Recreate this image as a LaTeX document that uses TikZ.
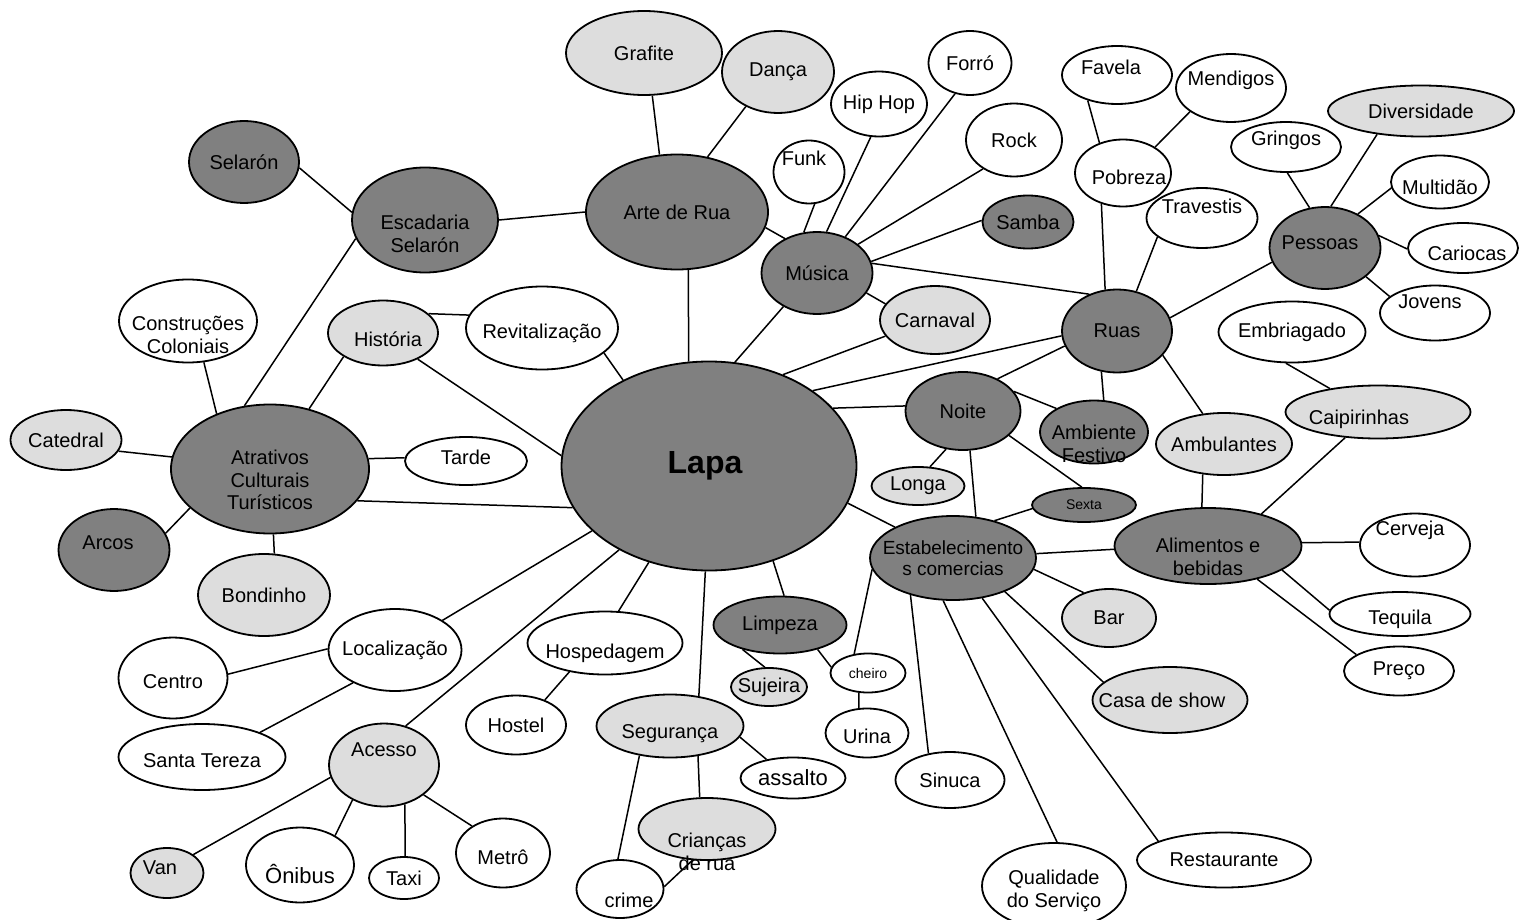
\documentclass[tikz,border=0pt]{standalone}
\usepackage{fontspec}
\setmainfont{Liberation Sans}
\usepackage{tikz}
\usetikzlibrary{shapes.geometric}
\definecolor{dkgray}{HTML}{808080}
\definecolor{ltgray}{HTML}{DDDDDD}

\begin{document}
\begin{tikzpicture}[x=1pt,y=-1pt,line width=1.5pt,
  every node/.style={font=\fontsize{20}{22.5}\selectfont,align=center},
  every label/.style={inner sep=0pt},
  bub/.style 2 args={ellipse,draw,line width=1.8pt,inner sep=0pt,minimum width=#1pt,minimum height=#2pt},
  dk/.style={fill=dkgray}, lt/.style={fill=ltgray}, wt/.style={fill=white},
  small/.style={font=\fontsize{14}{16}\selectfont},
  big/.style={font=\fontsize{22}{26}\selectfont}]
\useasboundingbox (0,0) rectangle (1525,920);

\node[dk,bub={295}{209},label={[font=\bfseries\fontsize{32}{36}\selectfont,xshift=-4pt]center:Lapa}] (lapa) at (709,466) {};

\node[dk,bub={182}{115},label=center:Arte de Rua] (arte) at (677,212) {};
\node[lt,bub={156}{84},label=center:Grafite] (grafite) at (644,53) {};
\node[lt,bub={112}{82},label=center:Dança] (danca) at (778,72) {};
\node[dk,bub={146}{105},label={[yshift=-14pt]center:Escadaria\\Selarón}] (escadaria) at (425,220) {};
\node[dk,bub={110}{82},label=center:Selarón] (selaron) at (244,162) {};

\node[dk,bub={111}{82},label=center:Música] (musica) at (817,273) {};
\node[wt,bub={71}{63},label={[xshift=-5pt,yshift=14pt]center:Funk}] (funk) at (809,172) {};
\node[wt,bub={96}{65},label=center:Hip Hop] (hiphop) at (879,104) {};
\node[wt,bub={83}{64},label=center:Forró] (forro) at (970,63) {};
\node[wt,bub={96}{73},label=center:Rock] (rock) at (1014,140) {};
\node[dk,bub={91}{53},label=center:Samba] (samba) at (1028,222) {};
\node[lt,bub={110}{68},label=center:Carnaval] (carnaval) at (935,320) {};

\node[dk,bub={198}{129},label={[yshift=-11pt]center:Atrativos\\Culturais\\Turísticos}] (atrativos) at (270,469) {};
\node[wt,bub={138}{83},label={[yshift=-14pt]center:Construções\\Coloniais}] (construcoes) at (188,321) {};
\node[lt,bub={110}{65},label={[xshift=5pt,yshift=-6pt]center:História}] (historia) at (383,333) {};
\node[wt,bub={152}{83},label={[yshift=-5pt]center:Revitalização}] (revitalizacao) at (542,328) {};
\node[lt,bub={111}{60},label=center:Catedral] (catedral) at (66,440) {};
\node[wt,bub={122}{48},label={[yshift=4pt]center:Tarde}] (tarde) at (466,461) {};
\node[dk,bub={111}{82},label={[xshift=-6pt,yshift=7pt]center:Arcos}] (arcos) at (114,550) {};
\node[lt,bub={132}{82},label=center:Bondinho] (bondinho) at (264,595) {};

\node[wt,bub={133}{82},label=center:Localização] (localizacao) at (395,650) {};
\node[wt,bub={109}{81},label={[yshift=-4pt]center:Centro}] (centro) at (173,678) {};
\node[wt,bub={167}{66},label={[yshift=-4pt]center:Santa Tereza}] (santa) at (202,757) {};
\node[lt,bub={110}{83},label={[yshift=15pt]center:Acesso}] (acesso) at (384,765) {};
\node[lt,bub={73}{50},label={[xshift=-7pt,yshift=5pt]center:Van}] (van) at (167,873) {};
\node[wt,bub={108}{75},label={[big,yshift=-9pt]center:Ônibus}] (onibus) at (300,865) {};
\node[wt,bub={70}{42},label=center:Taxi] (taxi) at (404,878) {};
\node[wt,bub={94}{69},label={[yshift=-4pt]center:Metrô}] (metro) at (503,853) {};
\node[wt,bub={155}{63},label={[yshift=-10pt]center:Hospedagem}] (hospedagem) at (605,643) {};
\node[wt,bub={100}{59},label=center:Hostel] (hostel) at (516,725) {};
\node[lt,bub={147}{63},label={[yshift=-8pt]center:Segurança}] (seguranca) at (670,726) {};
\node[wt,bub={87}{58},label={[xshift=9pt,yshift=-11pt]center:crime}] (crime) at (620,889) {};
\node[lt,bub={137}{62},label={[yshift=-23pt]center:Crianças\\de rua}] (criancas) at (707,829) {};
\node[wt,bub={105}{41},label={[big]center:assalto}] (assalto) at (793,778) {};

\node[dk,bub={133}{57},label=center:Limpeza] (limpeza) at (780,625) {};
\node[lt,bub={76}{38},label=center:Sujeira] (sujeira) at (769,687) {};
\node[wt,bub={75}{39},label={[small]center:cheiro}] (cheiro) at (868,673) {};
\node[wt,bub={83}{49},label={[yshift=-3pt]center:Urina}] (urina) at (867,733) {};
\node[dk,bub={115}{78},label=center:Noite] (noite) at (963,411) {};
\node[lt,bub={93}{38},label=center:Longa] (longa) at (918,486) {};
\node[dk,bub={104}{34},label={[small]center:Sexta}] (sexta) at (1084,505) {};
\node[dk,bub={108}{63},label={[yshift=-12pt]center:Ambiente\\Festivo}] (ambiente) at (1094,432) {};
\node[dk,bub={166}{84},label={[font=\fontsize{19}{21}\selectfont]center:Estabelecimento\\s comercias}] (estab) at (953,558) {};

\node[dk,bub={187}{76},label={[yshift=-11pt]center:Alimentos e\\bebidas}] (alimentos) at (1208,546) {};
\node[wt,bub={110}{63},label={[xshift=-5pt,yshift=15pt]center:Cerveja}] (cerveja) at (1415,545) {};
\node[wt,bub={141}{44},label={[yshift=-5pt]center:Tequila}] (tequila) at (1400,614) {};
\node[wt,bub={110}{49},label=center:Preço] (preco) at (1399,671) {};
\node[lt,bub={94}{58},label=center:Bar] (bar) at (1109,618) {};
\node[lt,bub={155}{66},label={[xshift=-8pt]center:Casa de show}] (casa) at (1170,700) {};
\node[wt,bub={109}{56},label=center:Sinuca] (sinuca) at (950,780) {};
\node[wt,bub={144}{86},label={[yshift=-5pt]center:Qualidade\\do Serviço}] (qualidade) at (1054,886) {};
\node[wt,bub={174}{55},label=center:Restaurante] (restaurante) at (1224,860) {};

\node[dk,bub={110}{83},label=center:Ruas] (ruas) at (1117,331) {};
\node[wt,bub={111}{60},label={[yshift=12pt]center:Travestis}] (travestis) at (1202,218) {};
\node[wt,bub={96}{67},label={[xshift=6pt,yshift=-4pt]center:Pobreza}] (pobreza) at (1123,173) {};
\node[wt,bub={110}{58},label={[xshift=-6pt,yshift=8pt]center:Favela}] (favela) at (1117,75) {};
\node[wt,bub={110}{68},label={[yshift=8pt]center:Mendigos}] (mendigos) at (1231,88) {};
\node[dk,bub={111}{82},label={[xshift=-5pt,yshift=5pt]center:Pessoas}] (pessoas) at (1325,248) {};
\node[lt,bub={186}{51},label=center:Diversidade] (diversidade) at (1421,111) {};
\node[wt,bub={110}{50},label={[yshift=7pt]center:Gringos}] (gringos) at (1286,147) {};
\node[wt,bub={98}{53},label={[yshift=-5pt]center:Multidão}] (multidao) at (1440,182) {};
\node[wt,bub={110}{50},label={[xshift=4pt,yshift=-5pt]center:Cariocas}] (cariocas) at (1463,248) {};
\node[wt,bub={110}{55},label={[xshift=-5pt,yshift=11pt]center:Jovens}] (jovens) at (1435,313) {};
\node[wt,bub={147}{61},label=center:Embriagado] (embriagado) at (1292,332) {};
\node[lt,bub={185}{53},label={[xshift=-19pt,yshift=-7pt]center:Caipirinhas}] (caipirinhas) at (1378,412) {};
\node[lt,bub={136}{62},label=center:Ambulantes] (ambulantes) at (1224,444) {};

% connectors
\draw (grafite.-79) -- (arte.107);
\draw (danca.-133) -- (arte.61);
\draw (selaron.-6) -- (escadaria.174);
\draw (escadaria.0) -- (arte.180);
\draw (escadaria.195) -- (atrativos.112);
\draw (arte.-79) -- (lapa.101);
\draw (arte.-10) -- (musica.133);
\draw (construcoes.-69) -- (atrativos.134);
\draw (historia.23) -- (revitalizacao.170);
\draw (historia.211) -- (atrativos.57);
\draw (historia.-37) -- (lapa.176);
\draw (revitalizacao.-22) -- (lapa.135);
\draw (lapa.76) -- (musica.225);
\draw (catedral.-12) -- (atrativos.173);
\draw (atrativos.6) -- (tarde.177);
\draw (atrativos.-154) -- (arcos.18);
\draw (atrativos.-87) -- (bondinho.76);
\draw (atrativos.-20) -- (lapa.-163);

\draw (funk.-80) -- (musica.108);
\draw (hiphop.-104) -- (musica.77);
\draw (forro.-116) -- (musica.52);
\draw (rock.-137) -- (musica.35);
\draw (samba.178) -- (musica.12);
\draw (musica.10) -- (ruas.127);
\draw (musica.-22) -- (carnaval.162);
\draw (carnaval.-162) -- (lapa.51);

\draw (ruas.-175) -- (lapa.36);
\draw (ruas.-164) -- (noite.43);
\draw (pobreza.-125) -- (ruas.106);
\draw (travestis.-157) -- (ruas.64);
\draw (ruas.14) -- (pessoas.195);
\draw (ruas.-111) -- (ambiente.73);
\draw (ruas.-28) -- (ambulantes.125);
\draw (favela.-139) -- (pobreza.128);
\draw (mendigos.-150) -- (pobreza.39);
\draw (gringos.-87) -- (pessoas.111);
\draw (diversidade.-152) -- (pessoas.82);
\draw (multidao.-173) -- (pessoas.46);
\draw (cariocas.181) -- (pessoas.13);
\draw (jovens.160) -- (pessoas.-35);
\draw (embriagado.-101) -- (caipirinhas.154);
\draw (caipirinhas.-142) -- (alimentos.31);

\draw (lapa.25) -- (noite.175);
\draw (noite.21) -- (ambiente.148);
\draw (noite.-114) -- (longa.58);
\draw (noite.-80) -- (estab.61);
\draw (noite.-28) -- (sexta.97);
\draw (lapa.-15) -- (estab.152);
\draw (sexta.-176) -- (estab.42);
\draw (estab.3) -- (alimentos.182);
\draw (alimentos.99) -- (ambulantes.-125);
\draw (alimentos.2) -- (cerveja.177);
\draw (alimentos.-18) -- (tequila.177);
\draw (alimentos.-34) -- (preco.159);
\draw (estab.-8) -- (bar.135);
\draw (estab.-33) -- (casa.165);
\draw (estab.-54) -- (restaurante.164);
\draw (estab.-103) -- (qualidade.86);
\draw (estab.-139) -- (sinuca.129);
\draw (estab.-172) -- (cheiro.126);

\draw (lapa.-56) -- (limpeza.82);
\draw (limpeza.-33) -- (cheiro.171);
\draw (cheiro.-115) -- (urina.108);
\draw (limpeza.-147) -- (sujeira.102);
\draw (lapa.-92) -- (seguranca.46);
\draw (lapa.-122) -- (hospedagem.67);
\draw (seguranca.-9) -- (assalto.145);
\draw (seguranca.-136) -- (crime.94);
\draw (seguranca.-47) -- (criancas.103);
\draw (criancas.-115) -- (crime.3);
\draw (hospedagem.-141) -- (hostel.41);

\draw (lapa.-151) -- (localizacao.32);
\draw (lapa.-137) -- (acesso.61);
\draw (localizacao.179) -- (centro.4);
\draw (localizacao.-142) -- (santa.23);
\draw (acesso.-167) -- (van.35);
\draw (acesso.-132) -- (onibus.40);
\draw (acesso.-62) -- (taxi.87);
\draw (acesso.-37) -- (metro.139);
\end{tikzpicture}
\end{document}
